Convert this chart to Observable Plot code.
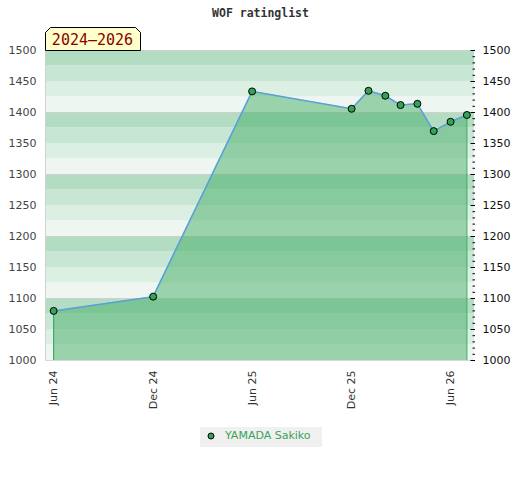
<!DOCTYPE html>
<html>
<head>
<meta charset="utf-8">
<script src="https://cdn.jsdelivr.net/npm/d3@7"></script>
<script src="https://cdn.jsdelivr.net/npm/@observablehq/plot@0.6"></script>
<style>
  body { margin: 0; background: #fff; }
  #wrap { position: relative; width: 520px; height: 480px; }
  #legend { position: absolute; left: 200px; top: 427px; width: 122px; height: 20px; background: #f0f0f0;
            font: 11px "DejaVu Sans", sans-serif; color: #3aa35a; line-height: 20px; }
  #legend svg { position: absolute; left: 0; top: 0; }
  #legend span { position: absolute; left: 25px; top: -1px; white-space: nowrap; }
</style>
</head>
<body>
<div id="wrap">
  <div id="chart"></div>
  <div id="legend"><svg width="22" height="20"><circle cx="11" cy="9" r="3" fill="#33a457" stroke="#000" stroke-width="1"></circle></svg><span>YAMADA Sakiko</span></div>
</div>
<script>
// ---- data ----
const dates   = ["2024-06-01", "2024-12-01", "2025-06-01", "2025-12-01", "2026-01-01", "2026-02-01",
                 "2026-03-01", "2026-04-01", "2026-05-01", "2026-06-01", "2026-07-01"];
const ratings = [1080, 1103, 1434, 1406, 1435, 1427, 1412, 1414, 1370, 1385, 1396];
const xTicks  = ["2024-06-01", "2024-12-01", "2025-06-01", "2025-12-01", "2026-06-01"];
const yTicks  = [1000, 1050, 1100, 1150, 1200, 1250, 1300, 1350, 1400, 1450, 1500];
const gridLines = [1000, 1100, 1200, 1300, 1400, 1500];
const bandShades = ["#eff6f1", "#dcefe3", "#c8e6d4", "#b3ddc2"];
const titleText = "WOF ratinglist";
const periodText = "2024–2026";
const playerName = "YAMADA Sakiko";

const xStart = new Date("2024-05-17");
const xEnd = new Date("2026-07-15");

const data = dates.map((d, i) => ({date: new Date(d), rating: ratings[i]}));
const bands = d3.range(1000, 1500, 25).map((y, i) => ({y1: y, y2: y + 25, shade: bandShades[i % 4]}));
const minorTicks = d3.range(1000, 1501, 10).filter(v => v % 50 !== 0);
const edges = [data[0], data[data.length - 1]];
const fmtY = d3.format("d");

const plot = Plot.plot({
  width: 520,
  height: 480,
  marginLeft: 45,
  marginRight: 46,
  marginTop: 50,
  marginBottom: 120,
  x: {type: "utc", domain: [xStart, xEnd]},
  y: {domain: [1000, 1500]},
  color: {type: "identity"},
  style: {fontFamily: "DejaVu Sans, sans-serif", fontSize: "11px", background: "transparent", overflow: "visible"},
  marks: [
    Plot.rect(bands, {x1: () => xStart, x2: () => xEnd, y1: "y1", y2: "y2", fill: "shade"}),
    Plot.ruleY(gridLines, {stroke: "#d0d0d0", strokeWidth: 1}),
    Plot.areaY(data, {x: "date", y1: 1000, y2: "rating", fill: "#45ae68", fillOpacity: 0.5, curve: "linear"}),
    Plot.ruleX(edges, {x: "date", y1: 1000, y2: "rating", stroke: "#2ea657", strokeWidth: 1}),
    Plot.ruleY([1000], {stroke: "#d8d8d8", strokeWidth: 1}),
    Plot.ruleX([xStart], {stroke: "#d0d0d0", strokeWidth: 1}),
    Plot.line(data, {x: "date", y: "rating", stroke: "#5a9fdc", strokeWidth: 1.5}),
    Plot.dot(data, {x: "date", y: "rating", r: 3.5, fill: "#33a457", stroke: "#000", strokeWidth: 1}),
    Plot.axisY({anchor: "left", ticks: yTicks, tickFormat: fmtY, tickSize: 0, tickPadding: 9, fill: "#444", fontSize: 11}),
    Plot.axisY({anchor: "right", ticks: yTicks, tickFormat: fmtY, tickSize: 0, tickPadding: 8, fill: "#111", fontSize: 11}),
    Plot.axisY({anchor: "right", ticks: minorTicks, tickSize: -2.5, text: null, stroke: "#000"}),
    Plot.axisY({anchor: "right", ticks: yTicks, tickSize: -4.5, text: null, stroke: "#000"}),
    Plot.axisX({ticks: xTicks.map(d => new Date(d)), tickFormat: d3.utcFormat("%b %y"), tickRotate: -90,
                tickSize: 0, tickPadding: 10, fill: "#333", fontSize: 11})
  ]
});

document.getElementById("chart").appendChild(plot);

const svg = d3.select(plot);
// title
svg.append("text")
  .attr("x", 260.5).attr("y", 17)
  .attr("text-anchor", "middle")
  .attr("font-family", "DejaVu Sans Mono, monospace")
  .attr("font-weight", "bold")
  .attr("font-size", "11.5px")
  .attr("fill", "#333")
  .text(titleText);
// period label box
svg.append("path")
  .attr("d", "M45.5,50.5 V32.5 L50.5,27.5 H135.5 L140.5,32.5 V50.5 Z")
  .attr("fill", "#ffffcc").attr("stroke", "#000").attr("stroke-width", 1);
svg.append("text")
  .attr("x", 92.5).attr("y", 45)
  .attr("text-anchor", "middle")
  .attr("font-family", "DejaVu Sans Mono, monospace")
  .attr("font-size", "15px")
  .attr("fill", "#8b0000")
  .text(periodText);
document.querySelector("#legend span").textContent = playerName;
</script>
</body>
</html>
